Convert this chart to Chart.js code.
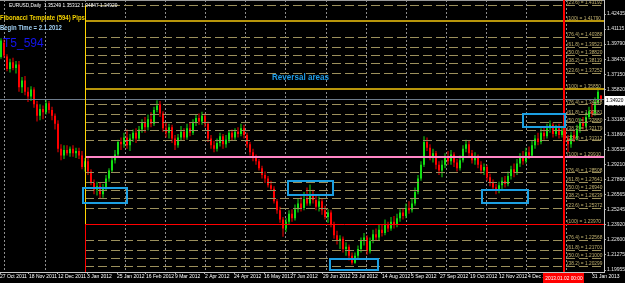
<!DOCTYPE html>
<html>
<head>
<meta charset="utf-8">
<script src="https://cdn.jsdelivr.net/npm/chart.js@4/dist/chart.umd.min.js"></script>
<style>
  html, body { margin: 0; padding: 0; background: #000; }
  canvas { display: block; }
</style>
</head>
<body>
<canvas id="priceChart" width="625" height="283"></canvas>
<script>
// EURUSD daily candles (one candle per bar index)
const openP = [
  1.3866, 1.3990, 1.3870, 1.3760, 1.3820, 1.3770, 1.3800, 1.3600, 1.3660, 1.3560,
  1.3520, 1.3580, 1.3450, 1.3350, 1.3410, 1.3380, 1.3460, 1.3400, 1.3350, 1.3280,
  1.3060, 1.3000, 1.3050, 1.3020, 1.3060, 1.3020, 1.3040, 1.3000, 1.2900, 1.2950,
  1.2860, 1.2760, 1.2700, 1.2730, 1.2660, 1.2720, 1.2800, 1.2870, 1.2960, 1.3010,
  1.3120, 1.3100, 1.3160, 1.3090, 1.3150, 1.3200, 1.3150, 1.3230, 1.3290, 1.3250,
  1.3320, 1.3280, 1.3400, 1.3450, 1.3370, 1.3240, 1.3200, 1.3250, 1.3150, 1.3090,
  1.3160, 1.3210, 1.3160, 1.3240, 1.3200, 1.3290, 1.3330, 1.3300, 1.3350, 1.3280,
  1.3150, 1.3090, 1.3060, 1.3110, 1.3170, 1.3100, 1.3140, 1.3200, 1.3160, 1.3210,
  1.3190, 1.3240, 1.3180, 1.3100, 1.3030, 1.2980, 1.2950, 1.2890, 1.2830, 1.2800,
  1.2740, 1.2710, 1.2600, 1.2520, 1.2440, 1.2360, 1.2420, 1.2490, 1.2450, 1.2530,
  1.2580, 1.2540, 1.2620, 1.2580, 1.2660, 1.2610, 1.2550, 1.2600, 1.2520, 1.2460,
  1.2500, 1.2400, 1.2300, 1.2250, 1.2270, 1.2180, 1.2200, 1.2120, 1.2060, 1.2120,
  1.2180, 1.2250, 1.2280, 1.2160, 1.2250, 1.2310, 1.2280, 1.2350, 1.2320, 1.2390,
  1.2360, 1.2420, 1.2390, 1.2450, 1.2500, 1.2470, 1.2540, 1.2520, 1.2580, 1.2680,
  1.2800, 1.2920, 1.3120, 1.3070, 1.2990, 1.3020, 1.2920, 1.2870, 1.2920, 1.2990,
  1.2950, 1.3010, 1.2940, 1.2890, 1.2960, 1.3060, 1.3100, 1.3020, 1.2960, 1.2990,
  1.2920, 1.2870, 1.2900, 1.2810, 1.2760, 1.2720, 1.2700, 1.2740, 1.2780, 1.2750,
  1.2820, 1.2880, 1.2850, 1.2930, 1.2990, 1.2950, 1.3030, 1.3000, 1.3090, 1.3150,
  1.3120, 1.3200, 1.3170, 1.3240, 1.3270, 1.3190, 1.3240, 1.3180, 1.3220, 1.3150,
  1.3100, 1.3180, 1.3150, 1.3230, 1.3290, 1.3260, 1.3340, 1.3390, 1.3370, 1.3470,
  1.35249
];
const highP = [
  1.4030, 1.4020, 1.3890, 1.3850, 1.3860, 1.3830, 1.3830, 1.3690, 1.3700, 1.3600,
  1.3610, 1.3600, 1.3480, 1.3450, 1.3440, 1.3490, 1.3480, 1.3430, 1.3370, 1.3310,
  1.3100, 1.3090, 1.3090, 1.3080, 1.3090, 1.3070, 1.3070, 1.3040, 1.2980, 1.2990,
  1.2880, 1.2790, 1.2770, 1.2760, 1.2750, 1.2830, 1.2890, 1.2980, 1.3050, 1.3140,
  1.3160, 1.3200, 1.3230, 1.3190, 1.3230, 1.3240, 1.3260, 1.3320, 1.3340, 1.3360,
  1.3380, 1.3430, 1.3486, 1.3480, 1.3390, 1.3290, 1.3280, 1.3270, 1.3180, 1.3190,
  1.3260, 1.3240, 1.3280, 1.3290, 1.3320, 1.3360, 1.3370, 1.3385, 1.3370, 1.3300,
  1.3180, 1.3130, 1.3150, 1.3200, 1.3190, 1.3180, 1.3220, 1.3230, 1.3240, 1.3250,
  1.3280, 1.3270, 1.3200, 1.3120, 1.3060, 1.3010, 1.2970, 1.2910, 1.2860, 1.2820,
  1.2780, 1.2730, 1.2620, 1.2550, 1.2460, 1.2450, 1.2520, 1.2530, 1.2570, 1.2620,
  1.2640, 1.2680, 1.2720, 1.2747, 1.2700, 1.2650, 1.2640, 1.2620, 1.2560, 1.2530,
  1.2520, 1.2420, 1.2340, 1.2300, 1.2290, 1.2240, 1.2220, 1.2150, 1.2150, 1.2210,
  1.2280, 1.2320, 1.2300, 1.2280, 1.2350, 1.2360, 1.2390, 1.2400, 1.2440, 1.2420,
  1.2460, 1.2470, 1.2490, 1.2530, 1.2540, 1.2580, 1.2600, 1.2620, 1.2720, 1.2830,
  1.2950, 1.3170, 1.3160, 1.3100, 1.3060, 1.3040, 1.2950, 1.2960, 1.3020, 1.3040,
  1.3050, 1.3030, 1.2970, 1.3000, 1.3090, 1.3140, 1.3130, 1.3050, 1.3030, 1.3010,
  1.2950, 1.2930, 1.2920, 1.2840, 1.2790, 1.2750, 1.2770, 1.2810, 1.2820, 1.2860,
  1.2910, 1.2930, 1.2970, 1.3020, 1.3040, 1.3070, 1.3080, 1.3130, 1.3180, 1.3200,
  1.3240, 1.3250, 1.3280, 1.3308, 1.3290, 1.3270, 1.3280, 1.3260, 1.3250, 1.3180,
  1.3210, 1.3220, 1.3270, 1.3330, 1.3340, 1.3380, 1.3430, 1.3460, 1.3510, 1.3600,
  1.35312
];
const lowP = [
  1.3850, 1.3860, 1.3740, 1.3730, 1.3750, 1.3720, 1.3560, 1.3550, 1.3530, 1.3470,
  1.3480, 1.3420, 1.3300, 1.3310, 1.3320, 1.3360, 1.3370, 1.3310, 1.3230, 1.3030,
  1.2960, 1.2970, 1.3000, 1.2990, 1.2990, 1.2980, 1.2970, 1.2880, 1.2860, 1.2830,
  1.2740, 1.2660, 1.2650, 1.2624, 1.2630, 1.2690, 1.2770, 1.2850, 1.2930, 1.2980,
  1.3050, 1.3070, 1.3060, 1.3040, 1.3120, 1.3110, 1.3130, 1.3200, 1.3200, 1.3220,
  1.3250, 1.3260, 1.3380, 1.3340, 1.3210, 1.3160, 1.3150, 1.3110, 1.3050, 1.3070,
  1.3130, 1.3140, 1.3140, 1.3170, 1.3180, 1.3260, 1.3270, 1.3270, 1.3250, 1.3120,
  1.3060, 1.3030, 1.3035, 1.3080, 1.3060, 1.3070, 1.3110, 1.3130, 1.3140, 1.3160,
  1.3170, 1.3150, 1.3070, 1.3000, 1.2950, 1.2920, 1.2870, 1.2800, 1.2760, 1.2720,
  1.2690, 1.2580, 1.2490, 1.2410, 1.2288, 1.2330, 1.2400, 1.2420, 1.2430, 1.2500,
  1.2510, 1.2520, 1.2560, 1.2560, 1.2580, 1.2520, 1.2510, 1.2480, 1.2440, 1.2410,
  1.2370, 1.2270, 1.2220, 1.2180, 1.2150, 1.2120, 1.2080, 1.2042, 1.2050, 1.2090,
  1.2150, 1.2210, 1.2130, 1.2140, 1.2230, 1.2250, 1.2260, 1.2290, 1.2300, 1.2330,
  1.2340, 1.2360, 1.2370, 1.2420, 1.2440, 1.2450, 1.2490, 1.2500, 1.2560, 1.2660,
  1.2780, 1.2900, 1.3040, 1.2960, 1.2940, 1.2880, 1.2830, 1.2810, 1.2890, 1.2920,
  1.2920, 1.2900, 1.2860, 1.2870, 1.2940, 1.3030, 1.2990, 1.2930, 1.2920, 1.2890,
  1.2840, 1.2830, 1.2780, 1.2730, 1.2690, 1.2661, 1.2670, 1.2700, 1.2720, 1.2730,
  1.2790, 1.2810, 1.2830, 1.2900, 1.2920, 1.2930, 1.2970, 1.2980, 1.3060, 1.3090,
  1.3100, 1.3140, 1.3150, 1.3200, 1.3160, 1.3170, 1.3150, 1.3160, 1.3120, 1.3030,
  1.3070, 1.3120, 1.3130, 1.3200, 1.3230, 1.3240, 1.3320, 1.3340, 1.3350, 1.3450,
  1.34847
];
const closeP = [
  1.4010, 1.3880, 1.3760, 1.3820, 1.3770, 1.3800, 1.3600, 1.3660, 1.3560, 1.3520,
  1.3580, 1.3450, 1.3350, 1.3410, 1.3380, 1.3460, 1.3400, 1.3350, 1.3280, 1.3060,
  1.3000, 1.3050, 1.3020, 1.3060, 1.3020, 1.3040, 1.3000, 1.2900, 1.2950, 1.2860,
  1.2760, 1.2700, 1.2730, 1.2660, 1.2720, 1.2800, 1.2870, 1.2960, 1.3010, 1.3120,
  1.3100, 1.3160, 1.3090, 1.3150, 1.3200, 1.3150, 1.3230, 1.3290, 1.3250, 1.3320,
  1.3280, 1.3400, 1.3440, 1.3370, 1.3240, 1.3200, 1.3250, 1.3150, 1.3090, 1.3160,
  1.3210, 1.3160, 1.3240, 1.3200, 1.3290, 1.3330, 1.3300, 1.3350, 1.3280, 1.3150,
  1.3090, 1.3060, 1.3110, 1.3170, 1.3100, 1.3140, 1.3200, 1.3160, 1.3210, 1.3190,
  1.3240, 1.3180, 1.3100, 1.3030, 1.2980, 1.2950, 1.2890, 1.2830, 1.2800, 1.2740,
  1.2710, 1.2600, 1.2520, 1.2440, 1.2360, 1.2420, 1.2490, 1.2450, 1.2530, 1.2580,
  1.2540, 1.2620, 1.2580, 1.2660, 1.2610, 1.2550, 1.2600, 1.2520, 1.2460, 1.2500,
  1.2400, 1.2300, 1.2250, 1.2270, 1.2180, 1.2200, 1.2120, 1.2060, 1.2120, 1.2180,
  1.2250, 1.2280, 1.2160, 1.2250, 1.2310, 1.2280, 1.2350, 1.2320, 1.2390, 1.2360,
  1.2420, 1.2390, 1.2450, 1.2500, 1.2470, 1.2540, 1.2520, 1.2580, 1.2680, 1.2800,
  1.2920, 1.3120, 1.3070, 1.2990, 1.3020, 1.2920, 1.2870, 1.2920, 1.2990, 1.2950,
  1.3010, 1.2940, 1.2890, 1.2960, 1.3060, 1.3100, 1.3020, 1.2960, 1.2990, 1.2920,
  1.2870, 1.2900, 1.2810, 1.2760, 1.2720, 1.2700, 1.2740, 1.2780, 1.2750, 1.2820,
  1.2880, 1.2850, 1.2930, 1.2990, 1.2950, 1.3030, 1.3000, 1.3090, 1.3150, 1.3120,
  1.3200, 1.3170, 1.3240, 1.3270, 1.3190, 1.3240, 1.3180, 1.3220, 1.3150, 1.3100,
  1.3180, 1.3150, 1.3230, 1.3290, 1.3260, 1.3340, 1.3390, 1.3370, 1.3470, 1.3560,
  1.34920
];

// time axis: label text and the bar it sits on
const dateLabels = ['27 Oct 2011', '18 Nov 2011', '12 Dec 2011', '3 Jan 2012', '25 Jan 2012', '16 Feb 2012',
  '9 Mar 2012', '2 Apr 2012', '24 Apr 2012', '16 May 2012', '7 Jun 2012', '29 Jun 2012', '23 Jul 2012',
  '14 Aug 2012', '5 Sep 2012', '27 Sep 2012', '19 Oct 2012', '12 Nov 2012', '4 Dec 2012', '31 Jan 2013'];
const dateBars = [-0.33, 9.33, 19, 28.67, 38.67, 48.33, 58, 68, 77.67, 87.67, 97.33, 107.33, 117, 127,
  136.67, 146.33, 156.33, 166, 175.67, 197];
const gridBars = [1.33, 14.71, 28.09, 41.47, 54.85, 68.23, 81.61, 94.99, 108.37, 121.75, 135.13, 148.51,
  161.89, 175.27, 188.65];

// price axis labels
const priceTicks = [1.42435, 1.41115, 1.39790, 1.38470, 1.37150, 1.35820, 1.34500, 1.33180, 1.31860,
  1.30535, 1.29210, 1.27890, 1.26565, 1.25245, 1.23920, 1.22600, 1.21275, 1.19955];

// fibonacci template levels (594 pips per block)
const fibNames = ['23.6', '100', '76.4', '61.8', '50.0', '38.2', '23.6', '100', '76.4', '61.8', '50.0', '38.2',
  '23.6', '100', '76.4', '61.8', '50.0', '38.2', '23.6', '100', '76.4', '61.8', '50.0', '38.2'];
const fibPrices = [1.43192, 1.41790, 1.40388, 1.39521, 1.38820, 1.38119, 1.37252, 1.35850, 1.34448, 1.33581,
  1.32880, 1.32179, 1.31312, 1.29910, 1.28508, 1.27641, 1.26940, 1.26239, 1.25372, 1.23970, 1.22568,
  1.21701, 1.21000, 1.20299];

// reversal areas
const boxStart = [27.33, 95.67, 109.67, 160.33, 174];
const boxEnd = [42, 110.67, 125.67, 175.67, 188];
const boxHigh = [1.2715, 1.2777, 1.2092, 1.2698, 1.3365];
const boxLow = [1.2584, 1.2654, 1.1995, 1.2584, 1.3251];

const beginBar = 28.33;     // Begin Time = 2.1.2012
const markerBar = 187.67;   // 2013.01.02 00:00
const markerText = '2013.01.02 00:00';

const SANS = "'Liberation Sans', Arial, sans-serif";
const UP = '#12e012';
const DOWN = '#ff0000';

// condensed canvas text (the terminal font is narrower than Liberation Sans)
function squeezeText(c, text, x, y, font, color, sx, align, baseline) {
    c.save();
    c.font = font;
    c.fillStyle = color;
    c.textAlign = align || 'left';
    c.textBaseline = baseline || 'middle';
    c.translate(x, y);
    c.scale(sx, 1);
    c.fillText(text, 0, 0);
    c.restore();
}

document.addEventListener('DOMContentLoaded', function() {
    const ctx = document.getElementById('priceChart').getContext('2d');
    const last = closeP.length - 1;
    const colors = closeP.map((c, i) => (c >= openP[i] ? UP : DOWN));

    const solidColors = ['#b8960b', '#b8960b', '#ff86c6', '#ff0000'];

    const overlay = {
        id: 'overlay',
        afterDatasetsDraw(chart) {
            const c = chart.ctx;
            const a = chart.chartArea;
            const X = v => chart.scales.x.getPixelForValue(v);
            const Y = v => chart.scales.y.getPixelForValue(v);
            const snap = (p, w) => (w % 2 === 1 ? Math.floor(p) + 0.5 : Math.round(p));
            const seg = (x1, y1, x2, y2, color, w, dash) => {
                c.beginPath();
                c.strokeStyle = color;
                c.lineWidth = w;
                c.setLineDash(dash || []);
                c.moveTo(x1, y1);
                c.lineTo(x2, y2);
                c.stroke();
            };

            c.save();
            c.beginPath();
            c.rect(a.left, a.top, a.right - a.left, a.bottom - a.top);
            c.clip();

            seg(a.left, a.top + 0.5, a.right, a.top + 0.5, '#9a9a9a', 1);

            // bid line
            const bidY = snap(Y(closeP[last]), 1);
            seg(a.left, bidY, a.right, bidY, '#6e7c8c', 1);

            // fibo levels
            const fx = Math.floor(X(beginBar));
            let k = 0;
            fibPrices.forEach((p, i) => {
                if (fibNames[i] === '100') {
                    const col = solidColors[k++];
                    const w = col === '#ff0000' ? 1 : 2;
                    const yy = snap(Y(p), w);
                    seg(fx, yy, a.right, yy, col, w);
                } else {
                    const yy = snap(Y(p), 1);
                    seg(fx, yy, a.right, yy, '#9c905c', 1, [9, 4]);
                }
            });

            // begin time line
            const redBase = fibPrices[fibNames.lastIndexOf('100')];
            const bx = fx + 0.5;
            seg(bx, Y(fibPrices[0]), bx, Y(redBase), '#ffd400', 1);
            seg(bx, Y(redBase), bx, a.bottom, '#ff0000', 1);

            // marker line
            const mx = Math.round(X(markerBar));
            seg(mx, a.top, mx, a.bottom, '#ff0000', 2);

            // reversal boxes
            c.setLineDash([]);
            c.strokeStyle = '#1c9fe2';
            c.lineWidth = 2;
            boxStart.forEach((s, i) => {
                const x1 = Math.round(X(s));
                const x2 = Math.round(X(boxEnd[i]));
                const y1 = Math.round(Y(boxHigh[i]));
                const y2 = Math.round(Y(boxLow[i]));
                c.strokeRect(x1, y1, x2 - x1, y2 - y1);
            });
            c.restore();

            // level captions
            fibPrices.forEach((p, i) => {
                squeezeText(c, '(' + fibNames[i] + ') = ' + p.toFixed(5), mx + 3, Math.round(Y(p)) - 1.5,
                    '6px ' + SANS, '#c2b270', 0.8, 'left', 'alphabetic');
            });
        },
        afterDraw(chart) {
            const c = chart.ctx;
            const X = v => chart.scales.x.getPixelForValue(v);
            const Y = v => chart.scales.y.getPixelForValue(v);

            squeezeText(c, 'EURUSD,Daily  ' + openP[last].toFixed(5) + ' ' + highP[last].toFixed(5) + ' ' +
                lowP[last].toFixed(5) + ' ' + closeP[last].toFixed(5), 9, 5, '6px ' + SANS, '#ffffff', 0.8);
            squeezeText(c, 'Fibonacci Template (594) Pips', 0, 18, 'bold 7px ' + SANS, '#f2d000', 0.85);
            squeezeText(c, 'Begin Time = 2.1.2012', 0, 28, 'bold 7px ' + SANS, '#a2d2f6', 0.85);
            squeezeText(c, 'T5_594', 3, 44, '12px ' + SANS, '#1414ee', 1);
            squeezeText(c, 'Reversal areas', 272, 78, 'bold 8.5px ' + SANS, '#1e9be6', 0.95);

            // time marker label
            const mx = Math.round(X(markerBar));
            c.save();
            c.font = '6px ' + SANS;
            const tw = Math.round(c.measureText(markerText).width * 0.8 + 4);
            c.fillStyle = '#ff0000';
            c.fillRect(mx - Math.round(tw / 2), 273, tw, 10);
            c.restore();
            squeezeText(c, markerText, mx, 278, '6px ' + SANS, '#ffffff', 0.8, 'center');

            // current price label
            const ys = chart.scales.y;
            const py = Math.round(Y(closeP[last]));
            c.save();
            c.fillStyle = '#ffffff';
            c.fillRect(ys.left + 1, py - 4, 20, 9);
            c.restore();
            squeezeText(c, closeP[last].toFixed(5), ys.left + 2, py + 0.5, '6px ' + SANS, '#000000', 0.8);
        }
    };

    const data = {
        datasets: [{
            data: highP.map((h, i) => ({ x: i, y: [lowP[i], h] })),
            backgroundColor: colors,
            borderWidth: 0,
            grouped: false,
            maxBarThickness: 1,
            inflateAmount: 0,
        }, {
            data: openP.map((o, i) => ({ x: i, y: [o, closeP[i]] })),
            backgroundColor: colors,
            borderWidth: 0,
            grouped: false,
            maxBarThickness: 2,
            inflateAmount: 0,
        }]
    };

    const config = {
        type: 'bar',
        data: data,
        plugins: [overlay],
        options: {
            responsive: false,
            animation: false,
            layout: { padding: 0 },
            scales: {
                x: {
                    type: 'linear',
                    position: 'bottom',
                    offset: false,
                    min: -1 / 3,
                    max: 201,
                    bounds: 'data',
                    afterBuildTicks: s => { s.ticks = dateBars.map(v => ({ value: v })); },
                    afterFit: s => { s.height = 11; s.paddingLeft = 0; s.paddingRight = 0; },
                    grid: {
                        offset: false,
                        drawOnChartArea: false,
                        tickLength: 2,
                        color: '#b0b0b0',
                    },
                    border: { color: '#c8c8c8' },
                    ticks: {
                        autoSkip: false,
                        maxRotation: 0,
                        minRotation: 0,
                        align: 'start',
                        padding: 0,
                        color: '#ffffff',
                        font: { family: SANS, size: 5 },
                        callback: (v, i) => dateLabels[i],
                    }
                },
                xg: {
                    type: 'linear',
                    position: 'bottom',
                    offset: false,
                    min: -1 / 3,
                    max: 201,
                    bounds: 'data',
                    afterBuildTicks: s => { s.ticks = gridBars.map(v => ({ value: v })); },
                    afterFit: s => { s.height = 0; s.paddingLeft = 0; s.paddingRight = 0; },
                    grid: {
                        offset: false,
                        drawTicks: false,
                        color: '#8e8e8e',
                    },
                    border: { display: false, dash: [2, 2] },
                    ticks: { display: false }
                },
                y: {
                    position: 'right',
                    offset: false,
                    min: 1.197794,
                    max: 1.436644,
                    bounds: 'data',
                    afterBuildTicks: s => { s.ticks = priceTicks.map(v => ({ value: v })); },
                    afterFit: s => { s.width = 21; s.paddingTop = 0; s.paddingBottom = 0; },
                    grid: {
                        drawOnChartArea: false,
                        tickLength: 2,
                        color: '#a0a0a0',
                    },
                    border: { color: '#c8c8c8' },
                    ticks: {
                        autoSkip: false,
                        padding: 1,
                        color: '#e6e6e6',
                        font: { family: SANS, size: 5 },
                        callback: v => Number(v).toFixed(5),
                    }
                }
            },
            plugins: {
                legend: { display: false },
                tooltip: { enabled: false }
            }
        }
    };

    const priceChart = new Chart(ctx, config);
});
</script>
</body>
</html>
